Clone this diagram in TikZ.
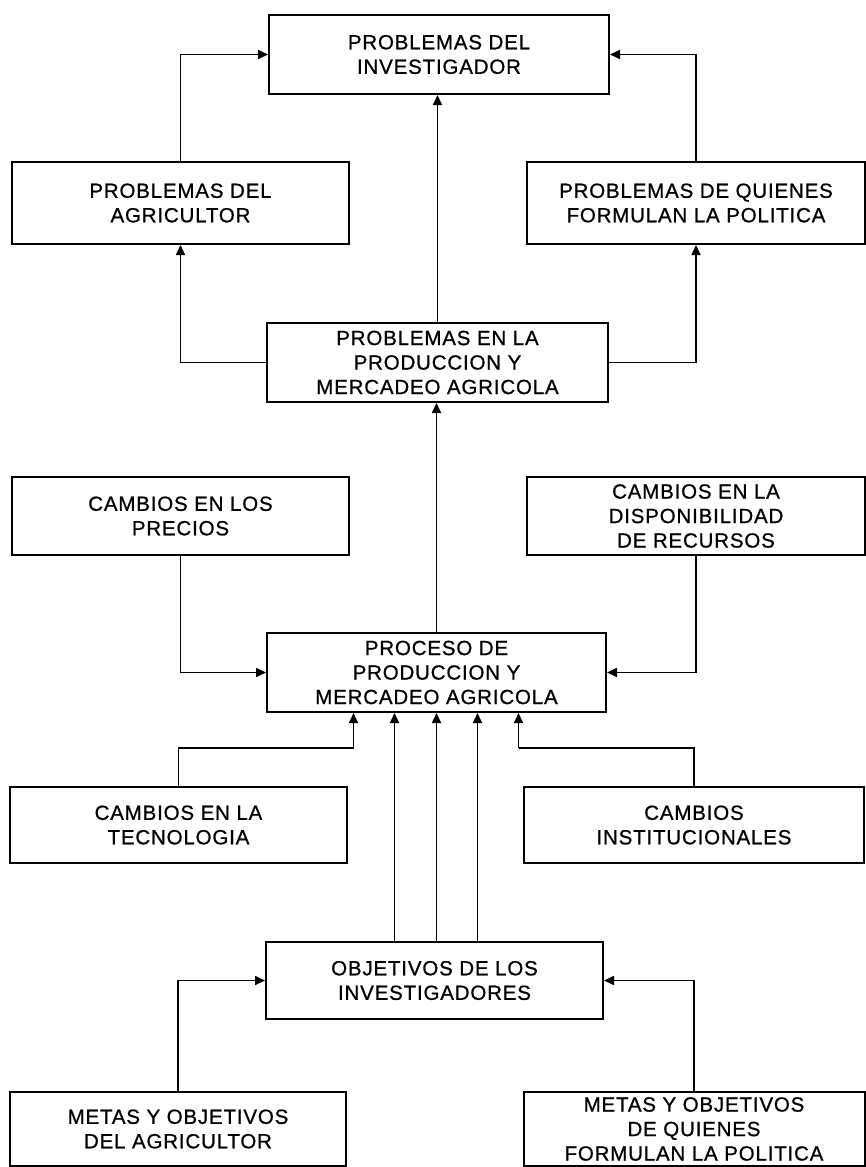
\documentclass[tikz,border=0pt]{standalone}
\usepackage{fontspec}
\newfontfamily\diagfont[LetterSpace=4,FakeBold=0.8]{Liberation Sans}
\usetikzlibrary{arrows.meta}
\begin{document}
\begin{tikzpicture}[x=1pt,y=-1pt,
  box/.style={draw, line width=2pt, align=center, inner sep=0pt,
    font={\diagfont\fontsize{20.5}{24.5}\selectfont}},
  wire/.style={line width=1.7pt},
  arr/.style={wire, -{Triangle[length=10pt,width=9pt]}}]
\useasboundingbox (0,0) rectangle (866,1167);

% boxes
\node[box, minimum width=340pt, minimum height=79pt] (inv) at (439,54.5) {PROBLEMAS DEL\\INVESTIGADOR};
\node[box, minimum width=337pt, minimum height=82pt] (agr) at (180.5,203) {PROBLEMAS DEL\\AGRICULTOR};
\node[box, minimum width=338pt, minimum height=82pt] (pol) at (696,203) {PROBLEMAS DE QUIENES\\FORMULAN LA POLITICA};
\node[box, minimum width=341pt, minimum height=79pt] (prod) at (437.5,362.5) {PROBLEMAS EN LA\\PRODUCCION Y\\MERCADEO AGRICOLA};
\node[box, minimum width=337pt, minimum height=78pt] (prec) at (180.5,516) {CAMBIOS EN LOS\\PRECIOS};
\node[box, minimum width=338pt, minimum height=78pt] (rec) at (696,516) {CAMBIOS EN LA\\DISPONIBILIDAD\\DE RECURSOS};
\node[box, minimum width=339pt, minimum height=79pt] (proc) at (436.5,672.5) {PROCESO DE\\PRODUCCION Y\\MERCADEO AGRICOLA};
\node[box, minimum width=337pt, minimum height=76pt] (tec) at (178.5,825) {CAMBIOS EN LA\\TECNOLOGIA};
\node[box, minimum width=340pt, minimum height=76pt] (inst) at (694,825) {CAMBIOS\\INSTITUCIONALES};
\node[box, minimum width=337pt, minimum height=77pt] (obj) at (434.5,980.5) {OBJETIVOS DE LOS\\INVESTIGADORES};
\node[box, minimum width=336pt, minimum height=74pt] (metA) at (178,1129) {METAS Y OBJETIVOS\\DEL AGRICULTOR};
\node[box, minimum width=341pt, minimum height=74pt] (metP) at (694,1129) {METAS Y OBJETIVOS\\DE QUIENES\\FORMULAN LA POLITICA};

% bend levels and entry points
\coordinate (lowbend) at (0,748);
\coordinate (p1) at ([xshift=-83pt]proc.south);
\coordinate (p2) at ([xshift=-42pt]proc.south);
\coordinate (p4) at ([xshift=41pt]proc.south);
\coordinate (p5) at ([xshift=82pt]proc.south);
\coordinate (o2) at (p2 |- obj.north);
\coordinate (o3) at (proc.south |- obj.north);
\coordinate (o4) at (p4 |- obj.north);

% upper section
\draw[arr] (agr.north) |- (inv.west);
\draw[arr] (pol.north) |- (inv.east);
\draw[arr] (prod.north) -- (prod.north |- inv.south);
\draw[arr] (prod.west) -| (agr.south);
\draw[arr] (prod.east) -| (pol.south);

% middle section
\draw[arr] (proc.north) -- (proc.north |- prod.south);
\draw[arr] (prec.south) |- (proc.west);
\draw[arr] (rec.south) |- (proc.east);
\draw[wire] (tec.north) |- (p1 |- lowbend);
\draw[arr] (p1 |- lowbend) -- (p1);
\draw[wire] (inst.north) |- (p5 |- lowbend);
\draw[arr] (p5 |- lowbend) -- (p5);

% lower section
\draw[arr] (o2) -- (p2);
\draw[arr] (o3) -- (proc.south);
\draw[arr] (o4) -- (p4);
\draw[arr] (metA.north) |- (obj.west);
\draw[arr] (metP.north) |- (obj.east);
\end{tikzpicture}
\end{document}
